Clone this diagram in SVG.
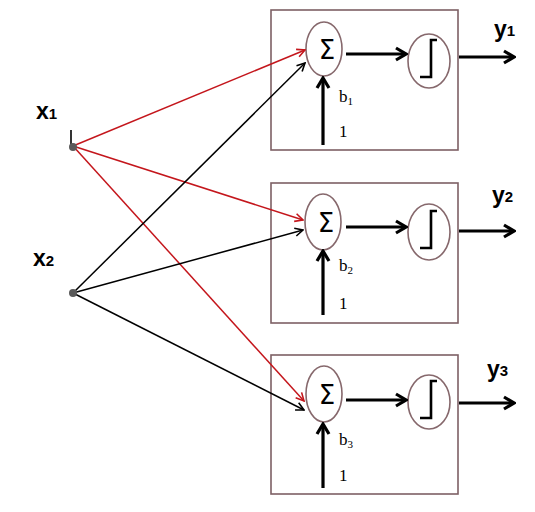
<svg xmlns="http://www.w3.org/2000/svg" width="535" height="512" viewBox="0 0 535 512">
<style>
.box{fill:#fff;stroke:#7d6064;stroke-width:1.6}
.ell{fill:#fff;stroke:#86686c;stroke-width:1.6}
.thick{stroke:#000;stroke-width:3.2;fill:none;marker-end:url(#ah)}
.red{stroke:#c4161c;stroke-width:1.5;fill:none;marker-end:url(#ar)}
.blk{stroke:#000;stroke-width:1.5;fill:none;marker-end:url(#ab)}
.sig{font-family:"DejaVu Sans","Liberation Sans",sans-serif;font-size:26px;text-anchor:middle}
.step{stroke:#000;stroke-width:2.6;fill:none}
.ser{font-family:"Liberation Serif","DejaVu Serif",serif;font-size:17px}
.sub{font-size:11px}
.lab{font-family:"Liberation Sans",Arial,sans-serif;font-weight:bold;font-size:23px}
.lsub{font-size:15px;font-weight:bold}
</style>
<defs>
<marker id="ah" markerUnits="userSpaceOnUse" viewBox="0 0 16 16" refX="14" refY="8" markerWidth="16" markerHeight="16" orient="auto">
<path d="M4,2 L14,8 L4,14" fill="none" stroke="#000" stroke-width="3.2"/>
</marker>
<marker id="ar" markerUnits="userSpaceOnUse" viewBox="0 0 10 10" refX="9" refY="5" markerWidth="10" markerHeight="10" orient="auto">
<path d="M1,1 L9,5 L1,9" fill="none" stroke="#c4161c" stroke-width="1.6"/>
</marker>
<marker id="ab" markerUnits="userSpaceOnUse" viewBox="0 0 10 10" refX="9" refY="5" markerWidth="10" markerHeight="10" orient="auto">
<path d="M1,1 L9,5 L1,9" fill="none" stroke="#000" stroke-width="1.6"/>
</marker>
</defs>
<rect width="535" height="512" fill="#fff"/>

<g id="neuron1">
<rect class="box" x="271" y="10" width="187" height="140"/>
<ellipse class="ell" cx="324" cy="49" rx="18" ry="27"/>
<text class="sig" x="327" y="59">Σ</text>
<ellipse class="ell" cx="429" cy="61" rx="21" ry="27"/>
<path class="step" d="M420,77 H431 V40 H437"/>
<line class="thick" x1="346" y1="54" x2="406" y2="54"/>
<line class="thick" x1="459" y1="57" x2="514" y2="57"/>
<line class="thick" x1="323" y1="145" x2="323" y2="78"/>
<text class="ser" x="339" y="102">b<tspan class="sub" dy="3">1</tspan></text>
<text class="ser" x="339" y="137">1</text>
</g>

<g id="neuron2">
<rect class="box" x="271" y="183" width="187" height="140"/>
<ellipse class="ell" cx="323" cy="222" rx="18" ry="28"/>
<text class="sig" x="326" y="232">Σ</text>
<ellipse class="ell" cx="429" cy="232" rx="21" ry="28"/>
<path class="step" d="M420,248 H431 V211 H437"/>
<line class="thick" x1="346" y1="227" x2="406" y2="227"/>
<line class="thick" x1="459" y1="231" x2="514" y2="231"/>
<line class="thick" x1="323" y1="315" x2="323" y2="251"/>
<text class="ser" x="339" y="271">b<tspan class="sub" dy="3">2</tspan></text>
<text class="ser" x="339" y="309">1</text>
</g>

<g id="neuron3">
<rect class="box" x="271" y="355" width="187" height="139"/>
<ellipse class="ell" cx="324" cy="394" rx="18" ry="28"/>
<text class="sig" x="327" y="404">Σ</text>
<ellipse class="ell" cx="429" cy="402" rx="21" ry="27"/>
<path class="step" d="M420,418 H431 V381 H437"/>
<line class="thick" x1="346" y1="400" x2="406" y2="400"/>
<line class="thick" x1="459" y1="403" x2="514" y2="403"/>
<line class="thick" x1="323" y1="488" x2="323" y2="424"/>
<text class="ser" x="339" y="445">b<tspan class="sub" dy="3">3</tspan></text>
<text class="ser" x="339" y="481">1</text>
</g>

<g id="outputs">
<text class="lab" x="494" y="37">y<tspan class="lsub" dy="-1">1</tspan></text>
<text class="lab" x="492" y="203">y<tspan class="lsub" dy="-1">2</tspan></text>
<text class="lab" x="487" y="377">y<tspan class="lsub" dy="-1">3</tspan></text>
</g>

<g id="input_x1">
<text class="lab" x="36" y="119">x<tspan class="lsub">1</tspan></text>
<line x1="71" y1="130" x2="71" y2="146" stroke="#000" stroke-width="1.6"/>
</g>
<g id="input_x2">
<text class="lab" x="33" y="266">x<tspan class="lsub">2</tspan></text>
</g>

<g id="connectors">
<line class="red" x1="73" y1="146" x2="305" y2="50"/>
<line class="red" x1="73" y1="146" x2="303" y2="220"/>
<line class="red" x1="73" y1="146" x2="304" y2="401"/>
<line class="blk" x1="73" y1="293" x2="305" y2="63"/>
<line class="blk" x1="73" y1="293" x2="303" y2="230"/>
<line class="blk" x1="73" y1="293" x2="304" y2="410"/>
</g>

<g id="dots">
<circle cx="73" cy="147" r="4" fill="#5a5a5a"/>
<circle cx="73" cy="293" r="4" fill="#5a5a5a"/>
</g>
</svg>
